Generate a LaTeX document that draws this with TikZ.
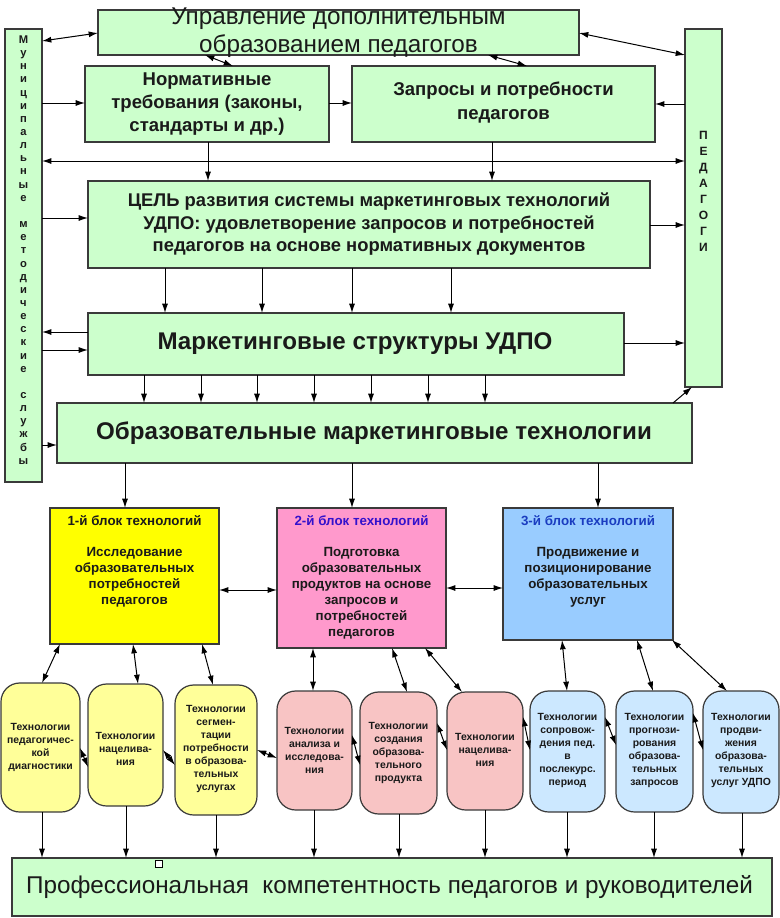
\documentclass[tikz,border=0pt]{standalone}
\usepackage{fontspec}
\setmainfont{Liberation Sans}
\usetikzlibrary{arrows.meta,fit}
\definecolor{gfill}{HTML}{CCFFCC}
\definecolor{yblock}{HTML}{FFFF00}
\definecolor{pblock}{HTML}{FF99CC}
\definecolor{bblock}{HTML}{99CCFF}
\definecolor{ysmall}{HTML}{FFFF99}
\definecolor{psmall}{HTML}{F8C4C4}
\definecolor{bsmall}{HTML}{CCE8FF}
\definecolor{edge}{HTML}{3A3A3A}
\definecolor{txt}{HTML}{1A1A1A}
\definecolor{ttwo}{HTML}{3311CC}
\definecolor{tthree}{HTML}{1A3CC0}
\begin{document}
\begin{tikzpicture}[x=0.75pt,y=-0.75pt,
  box/.style={draw=edge,line width=0.9pt,inner sep=0pt,outer sep=0pt},
  gbox/.style={box,fill=gfill},
  rbox/.style={box,rounded corners=14pt},
  txtnode/.style={text=txt,align=center,inner sep=0pt},
  arr/.style={-{Latex[length=7pt,width=4.5pt]},line width=0.75pt,draw=black},
  darr/.style={{Latex[length=7pt,width=4.5pt]}-{Latex[length=7pt,width=4.5pt]},line width=0.75pt,draw=black},
  bigreg/.style={txtnode,font=\fontsize{18.2}{21}\selectfont},
  midbold/.style={txtnode,font=\fontsize{13.9}{17.2}\selectfont\bfseries},
  bigbold/.style={txtnode,font=\fontsize{18.1}{21}\selectfont\bfseries},
  blocktitle/.style={txtnode,font=\fontsize{10}{12}\selectfont\bfseries},
  blockbody/.style={txtnode,font=\fontsize{10}{12}\selectfont\bfseries},
  smalltxt/.style={txtnode,font=\fontsize{7.8}{9.75}\selectfont\bfseries},
  vtxt/.style={txtnode,font=\fontsize{8.4}{9.86}\selectfont\bfseries}
]
\useasboundingbox (0,0) rectangle (780,918);

% ---------- boxes ----------
\node[gbox,fit={(98,10) (579,55)}] (upr) {};
\node[gbox,fit={(5,29) (42,482)}] (mun) {};
\node[gbox,fit={(685,29) (722,387)}] (ped) {};
\node[gbox,fit={(85,66) (329,142)}] (norm) {};
\node[gbox,fit={(352,66) (655,142)}] (zap) {};
\node[gbox,fit={(88,181) (650,268)}] (cel) {};
\node[gbox,fit={(88,313) (624,375)}] (ms) {};
\node[gbox,fit={(57,403) (692,463)}] (omt) {};
\node[box,fill=yblock,fit={(50,508) (219,644)}] (b1) {};
\node[box,fill=pblock,fit={(277,508) (446,648)}] (b2) {};
\node[box,fill=bblock,fit={(503,508) (673,640)}] (b3) {};
\node[rbox,fill=ysmall,fit={(1,683) (80,812)}] (y1) {};
\node[rbox,fill=ysmall,fit={(88,684) (163,806)}] (y2) {};
\node[rbox,fill=ysmall,fit={(175,685) (257,815)}] (y3) {};
\node[rbox,fill=psmall,fit={(277,691) (352,810)}] (p1) {};
\node[rbox,fill=psmall,fit={(360,692) (437,814)}] (p2) {};
\node[rbox,fill=psmall,fit={(447,692) (523,810)}] (p3) {};
\node[rbox,fill=bsmall,fit={(530,691) (605,812)}] (c1) {};
\node[rbox,fill=bsmall,fit={(616,691) (693,812)}] (c2) {};
\node[rbox,fill=bsmall,fit={(703,691) (779,813)}] (c3) {};
\node[gbox,line width=1.1pt,fit={(12,858) (772,916)}] (prof) {};
\node[draw=black,fill=white,line width=0.5pt,minimum size=5.2pt,inner sep=0pt] (handle) at (159,864) {};

% ---------- texts ----------
\node[bigreg] (uprT) at (338.5,33) {Управление дополнительным\\образованием педагогов};
\node[vtxt] (munT) at (23.5,250) {М\\у\\н\\и\\ц\\и\\п\\а\\л\\ь\\н\\ы\\е\\~\\м\\е\\т\\о\\д\\и\\ч\\е\\с\\к\\и\\е\\~\\с\\л\\у\\ж\\б\\ы};
\node[vtxt,font=\fontsize{9}{12}\selectfont\bfseries] (pedT) at (703.5,191) {П\\Е\\Д\\А\\Г\\О\\Г\\И};
\node[midbold] (normT) at (207,104) {Нормативные\\требования (законы,\\стандарты и др.)};
\node[midbold,font=\fontsize{13.9}{18}\selectfont\bfseries] (zapT) at (503.5,103) {Запросы и потребности\\педагогов};
\node[midbold,font=\fontsize{13.8}{16.9}\selectfont\bfseries] (celT) at (369,224.5) {ЦЕЛЬ развития системы маркетинговых технологий\\УДПО: удовлетворение запросов и потребностей\\педагогов на основе нормативных документов};
\node[bigbold] (msT) at (355,344) {Маркетинговые структуры УДПО};
\node[bigbold] (omtT) at (374,433) {Образовательные маркетинговые технологии};
\node[bigreg] (profT) at (389.5,887) {Профессиональная\ \ компетентность педагогов и руководителей};

\node[blocktitle] (b1T) at (134.5,521) {1-й блок технологий};
\node[blockbody] (b1B) at (134.5,577) {Исследование\\образовательных\\потребностей\\педагогов};
\node[blocktitle,text=ttwo] (b2T) at (361.5,521) {2-й блок технологий};
\node[blockbody] (b2B) at (361.5,593) {Подготовка\\образовательных\\продуктов на основе\\запросов и\\потребностей\\педагогов};
\node[blocktitle,text=tthree] (b3T) at (588,521) {3-й блок технологий};
\node[blockbody] (b3B) at (588,577) {Продвижение и\\позиционирование\\образовательных\\услуг};

\node[smalltxt] (y1T) at (40.5,747) {Технологии\\педагогичес-\\кой\\диагностики};
\node[smalltxt] (y2T) at (125.5,748.5) {Технологии\\нацелива-\\ния};
\node[smalltxt] (y3T) at (216,749) {Технологии\\сегмен-\\тации\\потребности\\в образова-\\тельных\\услугах};
\node[smalltxt] (p1T) at (314.5,750) {Технологии\\анализа и\\исследова-\\ния};
\node[smalltxt] (p2T) at (398.5,752.5) {Технологии\\создания\\образова-\\тельного\\продукта};
\node[smalltxt] (p3T) at (485,749.5) {Технологии\\нацелива-\\ния};
\node[smalltxt] (c1T) at (567.5,750.5) {Технологии\\сопровож-\\дения пед.\\в\\послекурс.\\период};
\node[smalltxt] (c2T) at (654.5,750.5) {Технологии\\прогнози-\\рования\\образова-\\тельных\\запросов};
\node[smalltxt] (c3T) at (741,750.5) {Технологии\\продви-\\жения\\образова-\\тельных\\услуг УДПО};

% ---------- connectors ----------
\draw[darr] (mun.east |- 0,41) -- (upr.west |- 0,33);
\draw[darr] (upr.east |- 0,33) -- (ped.west |- 0,55);
\draw[darr] (upr.south -| 205,0) -- (norm.north -| 233,0);
\draw[darr] (upr.south -| 488,0) -- (zap.north -| 527,0);
\draw[arr] (mun.east |- 0,103) -- (norm.west |- 0,103);
\draw[arr] (norm.east |- 0,103) -- (zap.west |- 0,103);
\draw[arr] (ped.west |- 0,104) -- (zap.east |- 0,104);
\draw[darr] (mun.east |- 0,161) -- (ped.west |- 0,161);
\draw[arr] (norm.south -| 208,0) -- (cel.north -| 208,0);
\draw[arr] (zap.south -| 492,0) -- (cel.north -| 492,0);
\draw[arr] (mun.east |- 0,218) -- (cel.west |- 0,218);
\draw[arr] (cel.east |- 0,225) -- (ped.west |- 0,225);
\foreach \xx in {165,262,352,451} \draw[arr] (cel.south -| \xx,0) -- (ms.north -| \xx,0);
\draw[arr] (ms.west |- 0,332) -- (mun.east |- 0,332);
\draw[arr] (mun.east |- 0,350) -- (ms.west |- 0,350);
\draw[arr] (ms.east |- 0,343) -- (ped.west |- 0,343);
\foreach \xx in {144,201,257,314,371,428,485} \draw[arr] (ms.south -| \xx,0) -- (omt.north -| \xx,0);
\draw[arr] (mun.east |- 0,445) -- (omt.west |- 0,445);
\draw[arr] (omt.north -| 673,0) -- (ped.south -| 692,0);
\draw[arr] (omt.south -| 125,0) -- (b1.north -| 125,0);
\draw[arr] (omt.south -| 352,0) -- (b2.north -| 352,0);
\draw[arr] (omt.south -| 598,0) -- (b3.north -| 598,0);
\draw[darr] (b1.east |- 0,590) -- (b2.west |- 0,590);
\draw[darr] (b2.east |- 0,588) -- (b3.west |- 0,588);

\draw[darr] (b1.south -| 60,0) -- (y1.north -| 42,0);
\draw[darr] (b1.south -| 133,0) -- (y2.north -| 138,0);
\draw[darr] (b1.south -| 202,0) -- (y3.north -| 213,0);
\draw[darr] (b2.south -| 313,0) -- (p1.north -| 313,0);
\draw[darr] (b2.south -| 392,0) -- (p2.north -| 407,0);
\draw[darr] (b2.south -| 425,0) -- (p3.north -| 462,0);
\draw[darr] (b3.south -| 562,0) -- (c1.north -| 567,0);
\draw[darr] (b3.south -| 637,0) -- (c2.north -| 653,0);
\draw[darr] (b3.south -| 672,0) -- (c3.north -| 727,0);

\draw[darr] (y1.east |- 0,748) -- (y2.west |- 0,767);
\draw[darr] (y2.east |- 0,750) -- (y3.west |- 0,765);
\draw[darr] (y3.east |- 0,750) -- (p1.west |- 0,758);
\draw[darr] (p1.east |- 0,735) -- (p2.west |- 0,765);
\draw[darr] (p2.east |- 0,723) -- (p3.west |- 0,750);
\draw[darr] (p3.east |- 0,717) -- (c1.west |- 0,750);
\draw[darr] (c1.east |- 0,717) -- (c2.west |- 0,745);
\draw[darr] (c2.east |- 0,713) -- (c3.west |- 0,750);

\draw[arr] (y1.south -| 42,0) -- (prof.north -| 42,0);
\draw[arr] (y2.south -| 126,0) -- (prof.north -| 126,0);
\draw[arr] (y3.south -| 216,0) -- (prof.north -| 216,0);
\draw[arr] (p1.south -| 314,0) -- (prof.north -| 314,0);
\draw[arr] (p2.south -| 399,0) -- (prof.north -| 399,0);
\draw[arr] (p3.south -| 485,0) -- (prof.north -| 485,0);
\draw[arr] (c1.south -| 567,0) -- (prof.north -| 567,0);
\draw[arr] (c2.south -| 654,0) -- (prof.north -| 654,0);
\draw[arr] (c3.south -| 742,0) -- (prof.north -| 742,0);
\end{tikzpicture}
\end{document}
